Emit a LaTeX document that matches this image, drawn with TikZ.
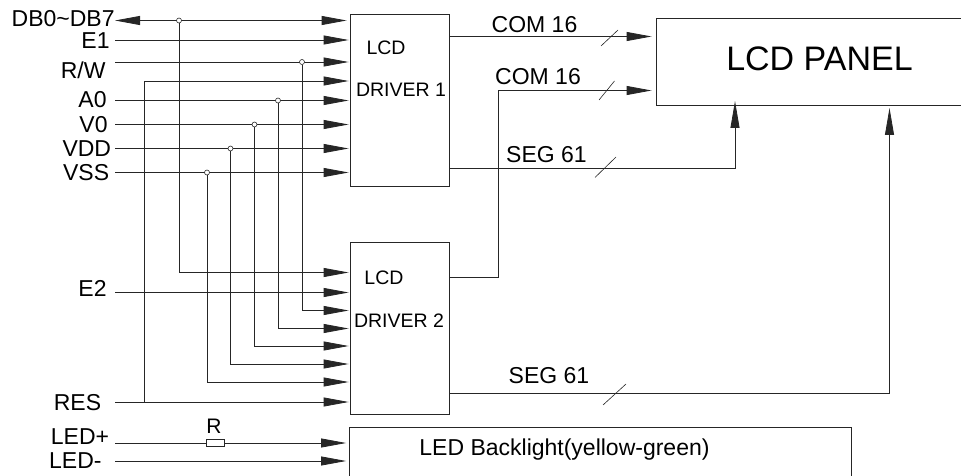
\documentclass[tikz,border=0pt]{standalone}
\usepackage{fontspec}
\setmainfont{Liberation Sans}
\usetikzlibrary{arrows.meta}

\begin{document}
\begin{tikzpicture}[x=1pt, y=-1pt, line width=0.8pt, color=black!85,
    txt/.style={text=black, inner sep=0pt, font=\fontsize{23}{25}\selectfont},
    small/.style={text=black, inner sep=0pt, font=\fontsize{19.5}{22}\selectfont},
    box/.style={draw, fill=white, inner sep=0pt},
    junc/.style={draw, circle, fill=white, inner sep=0pt, minimum size=5pt, line width=0.6pt},
    sig/.style={-{Triangle[length=25pt, width=9pt]}, shorten >=1pt},
    slash/.style={line width=0.6pt},
    ]
    \useasboundingbox (0,0) rectangle (961,476);

    % Boxes
    \node[box, minimum width=99.5pt, minimum height=172pt] (drvA) at (399.75,100.5) {};
    \node[box, minimum width=99.5pt, minimum height=172pt] (drvB) at (399.75,328.5) {};
    \node[box, minimum width=340pt, minimum height=86.5pt] (panel) at (826,62) {};
    \node[box, minimum width=502pt, minimum height=60pt] (led) at (600.5,457.5) {};

    % Box texts
    \node[small] (lcdA) at (386,48) {LCD};
    \node[small] (nameA) at (401,90) {DRIVER 1};
    \node[small] (lcdB) at (384,278) {LCD};
    \node[small] (nameB) at (399,321) {DRIVER 2};
    \node[text=black, inner sep=0pt, font=\fontsize{34}{36}\selectfont] (title) at (819.5,59) {LCD PANEL};
    \node[txt] (ledtxt) at (564.5,450) {LED Backlight(yellow-green)};

    % Signal names
    \node[txt, anchor=east] (dbT) at (115,19) {DB0\textasciitilde DB7};
    \node[txt, anchor=east] (e1T) at (110,41) {E1};
    \node[txt, anchor=east] (rwT) at (106,70) {R/W};
    \node[txt, anchor=east] (a0T) at (107,100) {A0};
    \node[txt, anchor=east] (v0T) at (108,125) {V0};
    \node[txt, anchor=east] (vddT) at (111.5,149) {VDD};
    \node[txt, anchor=east] (vssT) at (109.5,173) {VSS};
    \node[txt, anchor=east] (e2T) at (107,288) {E2};
    \node[txt, anchor=east] (resT) at (101.5,403) {RES};
    \node[txt, anchor=east] (ledpT) at (109.5,437) {LED+};
    \node[txt, anchor=east] (lednT) at (102,461) {LED-};

    % Line starts
    \coordinate (dbS) at (115,20.5);
    \coordinate (e1S) at (115,40);
    \coordinate (rwS) at (115,62);
    \coordinate (a0S) at (115,100.5);
    \coordinate (v0S) at (115,124.5);
    \coordinate (vddS) at (115,148.5);
    \coordinate (vssS) at (115,172.5);
    \coordinate (e2S) at (115,292.5);
    \coordinate (resS) at (115,402);
    \coordinate (ledpS) at (115,443);
    \coordinate (lednS) at (115,461);

    % Inputs of driver 1
    \draw[{Triangle[length=25pt, width=9pt]}-{Triangle[length=25pt, width=9pt]}, shorten >=3pt] (dbS) -- (dbS -| drvA.west);
    \foreach \s in {e1S, rwS, a0S, v0S, vddS, vssS} {
      \draw[sig] (\s) -- (\s -| drvA.west);
    }

    % Inputs of driver 2
    \draw[sig] (e2S) -- (e2S -| drvB.west);
    \draw[sig] (resS) -- (resS -| drvB.west);

    % Branches
    \node[junc] (jdb) at (179,20.5) {};
    \node[junc] (jrw) at (302,62) {};
    \node[junc] (ja0) at (278,100.5) {};
    \node[junc] (jv0) at (254.5,124.5) {};
    \node[junc] (jvdd) at (230.5,148.5) {};
    \node[junc] (jvss) at (207,172.5) {};
    \coordinate (jres) at (144.5,402);

    \foreach \j/\y in {jdb/272.5, jrw/310.5, ja0/328.5, jv0/346, jvdd/364, jvss/382} {
      \draw[sig] (\j.south) |- (drvB.west |- 0,\y);
    }
    \draw[sig] (jres) |- (drvA.west |- 0,81);

    % Outputs
    \coordinate (comA) at (drvA.east |- 0,36.5);
    \coordinate (segA) at (drvA.east |- 0,168);
    \coordinate (comB) at (drvB.east |- 0,277);
    \coordinate (segB) at (drvB.east |- 0,393.5);
    \coordinate (bendB) at (498,90.5);
    \coordinate (bendS) at (735,105);
    \coordinate (bendR) at (889.5,105);

    \draw[sig, shorten >=4pt] (comA) -- (comA -| panel.west);
    \draw[sig, shorten >=4pt] (comB) -| (bendB) -- (bendB -| panel.west);
    \draw[-{Triangle[length=27pt, width=9pt]}, shorten >=-4pt] (segA) -| (bendS);
    \draw[-{Triangle[length=27pt, width=9pt]}, shorten >=3pt] (segB) -| (bendR);

    % Output labels
    \node[txt] (comAT) at (534.5,25) {COM 16};
    \node[txt] (comBT) at (538,77) {COM 16};
    \node[txt] (segAT) at (546.5,155) {SEG 61};
    \node[txt] (segBT) at (549,376) {SEG 61};

    % Bus strokes
    \draw[slash] (601,46) -- (618,30);
    \draw[slash] (599,100) -- (614.5,81);
    \draw[slash] (595,177.5) -- (616,157);
    \draw[slash] (603,405) -- (626,384);

    % Backlight
    \draw[sig, shorten >=3pt] (ledpS) -- (ledpS -| led.west);
    \draw[sig, shorten >=3pt] (lednS) -- (lednS -| led.west);
    \node[box, minimum width=18pt, minimum height=6.5pt, line width=0.6pt] (rled) at (215,443) {};
    \node[txt, font=\fontsize{21}{23}\selectfont] (rT) at (214,426) {R};
\end{tikzpicture}
\end{document}
